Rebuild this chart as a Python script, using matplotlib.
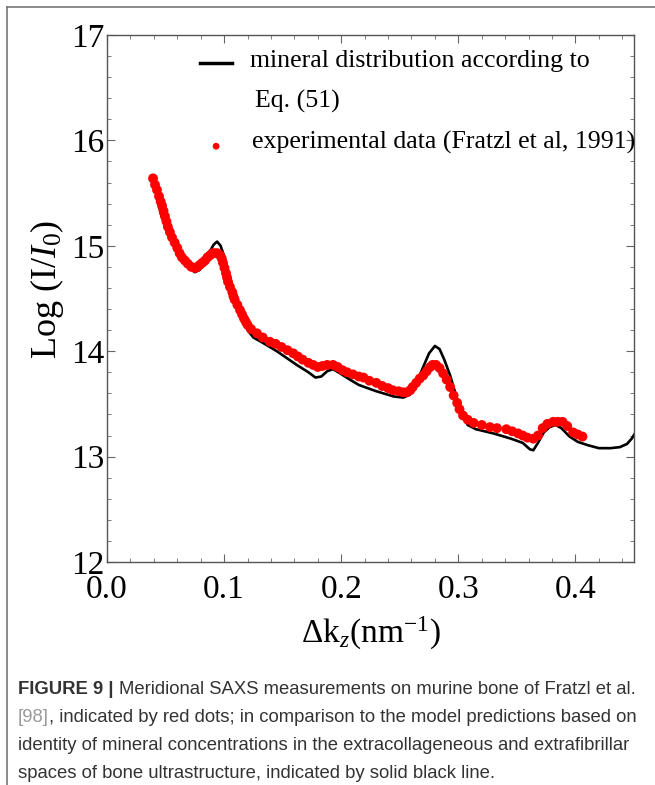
import matplotlib
matplotlib.use("Agg")
import matplotlib.pyplot as plt
from matplotlib.lines import Line2D
from matplotlib.ticker import MultipleLocator

# Meridional SAXS: model curve (black) vs. experimental points (red)

model_k = [0.043, 0.046, 0.050, 0.055, 0.060, 0.065, 0.070, 0.075, 0.079, 0.083,
           0.087, 0.091, 0.094, 0.097, 0.100, 0.104, 0.108, 0.112, 0.116, 0.120,
           0.125, 0.133, 0.145, 0.162, 0.172, 0.178, 0.183, 0.188, 0.193, 0.199,
           0.206, 0.215, 0.230, 0.245, 0.253, 0.259, 0.265, 0.270, 0.275, 0.280,
           0.284, 0.288, 0.293, 0.298, 0.303, 0.308, 0.315, 0.330, 0.345, 0.355,
           0.361, 0.364, 0.368, 0.373, 0.378, 0.383, 0.388, 0.395, 0.402, 0.410,
           0.420, 0.430, 0.438, 0.444, 0.448, 0.452]
model_logI = [15.45, 15.30, 15.18, 15.05, 14.95, 14.87, 14.80, 14.75, 14.77, 14.84,
              14.93, 15.01, 15.04, 15.00, 14.90, 14.74, 14.57, 14.42, 14.30, 14.20,
              14.13, 14.08, 14.00, 13.87, 13.80, 13.75, 13.76, 13.81, 13.83, 13.79,
              13.74, 13.68, 13.62, 13.57, 13.56, 13.59, 13.72, 13.85, 13.98, 14.05,
              14.02, 13.92, 13.77, 13.58, 13.42, 13.30, 13.26, 13.22, 13.17, 13.13,
              13.07, 13.06, 13.13, 13.23, 13.28, 13.30, 13.27, 13.19, 13.14, 13.11,
              13.08, 13.08, 13.09, 13.12, 13.17, 13.24]

exp_k = [0.0393, 0.0410, 0.0427, 0.0444, 0.0458, 0.0470, 0.0483, 0.0495, 0.0508, 0.0520,
         0.0537, 0.0555, 0.0578, 0.0600, 0.0620, 0.0640, 0.0665, 0.0690, 0.0720, 0.0750,
         0.0772, 0.0794, 0.0815, 0.0837, 0.0858, 0.0880, 0.0900, 0.0920, 0.0943, 0.0965,
         0.0980, 0.0990, 0.1003, 0.1016, 0.1025, 0.1033, 0.1050, 0.1070, 0.1080, 0.1090,
         0.1113, 0.1136, 0.1153, 0.1170, 0.1185, 0.1200, 0.123, 0.128, 0.133, 0.139,
         0.144, 0.149, 0.154, 0.159, 0.163, 0.167, 0.172, 0.176, 0.180, 0.184,
         0.188, 0.193, 0.197, 0.201, 0.205, 0.210, 0.215, 0.219, 0.224, 0.230,
         0.235, 0.240, 0.244, 0.249, 0.253, 0.256, 0.259, 0.261, 0.264, 0.267,
         0.270, 0.273, 0.276, 0.278, 0.281, 0.284, 0.287, 0.290, 0.293, 0.296,
         0.299, 0.301, 0.304, 0.308, 0.313, 0.320, 0.327, 0.333, 0.341, 0.346,
         0.351, 0.355, 0.359, 0.364, 0.368, 0.372, 0.376, 0.381, 0.385, 0.389,
         0.393, 0.398, 0.402, 0.406]
exp_logI = [15.64, 15.58, 15.53, 15.47, 15.42, 15.38, 15.33, 15.28, 15.23, 15.18,
            15.13, 15.08, 15.03, 14.98, 14.93, 14.89, 14.86, 14.83, 14.80, 14.79,
            14.80, 14.82, 14.84, 14.86, 14.89, 14.91, 14.93, 14.93, 14.93, 14.91,
            14.88, 14.84, 14.79, 14.74, 14.70, 14.66, 14.61, 14.56, 14.52, 14.49,
            14.44, 14.39, 14.35, 14.31, 14.28, 14.25, 14.21, 14.17, 14.13, 14.09,
            14.07, 14.04, 14.01, 13.98, 13.95, 13.92, 13.89, 13.87, 13.85, 13.86,
            13.87, 13.87, 13.85, 13.82, 13.80, 13.78, 13.76, 13.75, 13.72, 13.70,
            13.67, 13.65, 13.63, 13.62, 13.61, 13.61, 13.63, 13.66, 13.70, 13.74,
            13.77, 13.81, 13.85, 13.87, 13.87, 13.84, 13.79, 13.73, 13.66, 13.58,
            13.51, 13.45, 13.39, 13.35, 13.32, 13.30, 13.28, 13.27, 13.26, 13.24,
            13.22, 13.20, 13.18, 13.17, 13.20, 13.27, 13.31, 13.33, 13.33, 13.33,
            13.29, 13.23, 13.21, 13.19]

legend_model = "mineral distribution according to"
legend_model_2 = "Eq. (51)"
legend_exp = "experimental data (Fratzl et al, 1991)"

caption_lines = [
    ("FIGURE 9 | ", "Meridional SAXS measurements on murine bone of Fratzl et al."),
    ("[98]", ", indicated by red dots; in comparison to the model predictions based on"),
    ("", "identity of mineral concentrations in the extracollageneous and extrafibrillar"),
    ("", "spaces of bone ultrastructure, indicated by solid black line."),
]

plt.rcParams["font.family"] = ["Liberation Serif", "DejaVu Serif"]
plt.rcParams["mathtext.fontset"] = "custom"
plt.rcParams["mathtext.rm"] = "Liberation Serif"
plt.rcParams["mathtext.it"] = "Liberation Serif:italic"

W, H = 655, 785
fig = plt.figure(figsize=(W / 100, H / 100), dpi=100)
ax = fig.add_axes([107 / W, 1 - 562 / H, 527 / W, 527 / H])

ax.plot(model_k, model_logI, color="black", lw=1.9, zorder=2)
ax.scatter(exp_k, exp_logI, s=50, color="#ff0000", edgecolors="none", zorder=3)

ax.set_xlim(0, 0.45)
ax.set_ylim(12, 17)
ax.xaxis.set_major_locator(MultipleLocator(0.1))
ax.xaxis.set_minor_locator(MultipleLocator(0.02))
ax.yaxis.set_major_locator(MultipleLocator(1))
ax.yaxis.set_minor_locator(MultipleLocator(0.2))
ax.set_xticklabels([f"{v:.1f}" for v in ax.get_xticks()])
ax.tick_params(which="both", direction="in", top=True, right=True,
               color="#666666", labelsize=24, labelcolor="black")
ax.tick_params(which="major", length=6, width=0.8)
ax.tick_params(which="minor", length=3, width=0.6)
ax.tick_params(axis="y", pad=2)
ax.tick_params(axis="x", pad=9)
for sp in ax.spines.values():
    sp.set_color("#555555")
    sp.set_linewidth(1.0)

ax.set_ylabel(r"Log (I/$I_0$)", fontsize=26)
ax.yaxis.set_label_coords(-0.078, 0.518)
ax.set_xlabel(r"$\Delta$k$_z$(nm$^{-1}$)", fontsize=24, labelpad=7)

# legend drawn by hand so the line sits on the first text row
ax.plot([0.176, 0.237], [0.947, 0.947], transform=ax.transAxes, color="black", lw=2.5)
ax.scatter([0.207], [0.789], transform=ax.transAxes, s=24, color="#ff0000", edgecolors="none")
ax.text(0.271, 0.950, legend_model, transform=ax.transAxes, fontsize=18.6, va="center")
ax.text(0.281, 0.873, legend_model_2, transform=ax.transAxes, fontsize=18.6, va="center")
ax.text(0.275, 0.797, legend_exp, transform=ax.transAxes, fontsize=18.6, va="center")

# outer frame (left and top only)
fig.add_artist(Line2D([7 / W, 7 / W], [0, 1 - 7 / H], color="#777777", lw=1.2))
fig.add_artist(Line2D([7 / W, 1], [1 - 7 / H, 1 - 7 / H], color="#777777", lw=1.2))

# caption
renderer = fig.canvas.get_renderer()
cap_font = ["Liberation Sans Narrow", "Liberation Sans", "DejaVu Sans"]
y0 = 690
for i, (head, rest) in enumerate(caption_lines):
    y = 1 - (y0 + i * 28) / H
    x = 18 / W
    if head:
        bold = head.startswith("FIGURE")
        t = fig.text(x, y, head, fontsize=13.3, family=cap_font, va="center",
                     weight="bold" if bold else "normal",
                     color="#333333" if bold else "#9a9a9a")
        bb = t.get_window_extent(renderer)
        x = bb.x1 / W
    fig.text(x, y, rest, fontsize=13.3, family=cap_font, va="center", color="#333333")

fig.savefig("out.png", dpi=100)
